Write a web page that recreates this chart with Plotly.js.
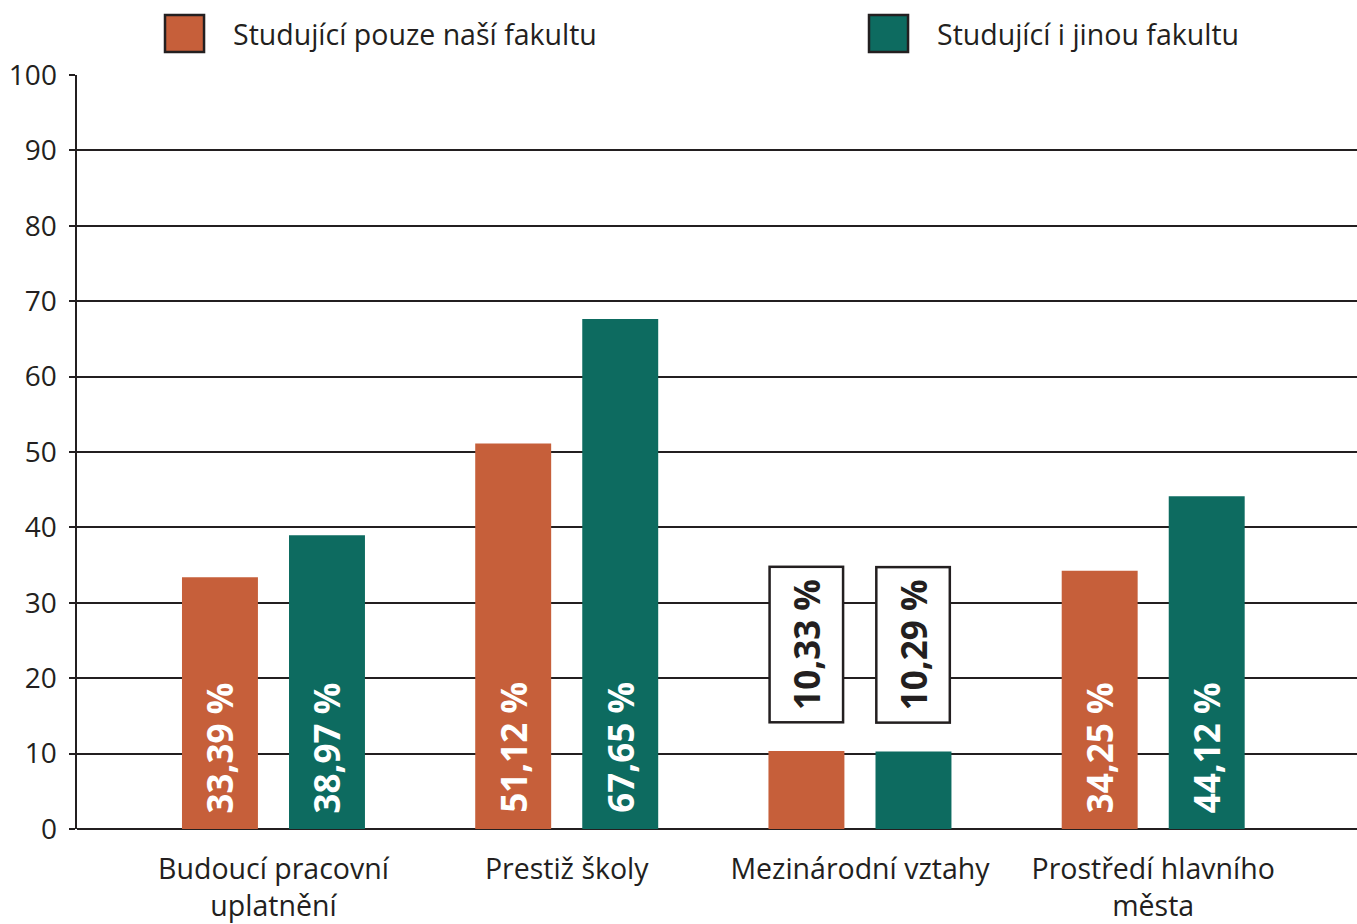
<!DOCTYPE html>
<html>
<head>
<meta charset="utf-8">
<script src="https://cdn.plot.ly/plotly-3.0.1.min.js"></script>
<style>html,body{margin:0;padding:0;background:#fff;}#chart{width:1357px;height:924px;}</style>
</head>
<body>
<div id="chart"></div>
<script>
// ---- data ----
const categories = ["Budoucí pracovní<br>uplatnění", "Prestiž školy", "Mezinárodní vztahy", "Prostředí hlavního<br>města"];
const seriesNames = ["Studující pouze naší fakultu", "Studující i jinou fakultu"];
const onlyOurs = [33.39, 51.12, 10.33, 34.25];
const alsoOther = [38.97, 67.65, 10.29, 44.12];
const labelsOnlyOurs = ["33,39 %", "51,12 %", "10,33 %", "34,25 %"];
const labelsAlsoOther = ["38,97 %", "67,65 %", "10,29 %", "44,12 %"];
const boxedLabelIndex = [2]; // categories whose labels sit in a box above the bar
const yTicks = [0, 10, 20, 30, 40, 50, 60, 70, 80, 90, 100];

// ---- style ----
const ORANGE = "#c65f3a", GREEN = "#0d6b60", INK = "#231f20";
const FONT = "Open Sans, Noto Sans, sans-serif";
const BAR_W = 0.259, OFF_A = -0.312, OFF_B = 0.053;
const LABEL_SIZE = 35;
const xIdx = categories.map((_, i) => i);

const traces = [
  {type: "bar", name: seriesNames[0], x: xIdx, y: onlyOurs, width: BAR_W, offset: OFF_A,
   marker: {color: ORANGE}, hoverinfo: "skip", showlegend: false},
  {type: "bar", name: seriesNames[1], x: xIdx, y: alsoOther, width: BAR_W, offset: OFF_B,
   marker: {color: GREEN}, hoverinfo: "skip", showlegend: false}
];

const annotations = [];
[[onlyOurs, labelsOnlyOurs, OFF_A], [alsoOther, labelsAlsoOther, OFF_B]].forEach(([vals, labs, off]) => {
  vals.forEach((v, i) => {
    const boxed = boxedLabelIndex.includes(i);
    if (boxed) {
      annotations.push({
        x: i + off + BAR_W / 2, y: v, xref: "x", yref: "y",
        yanchor: "bottom", yshift: 28, showarrow: false,
        text: "<b>" + labs[i] + "</b>", textangle: -90,
        font: {family: FONT, size: LABEL_SIZE, color: INK},
        bgcolor: "#fff", bordercolor: INK, borderwidth: 2.5, borderpad: 0,
        width: 153, height: 71
      });
    } else {
      annotations.push({
        x: i + off + BAR_W / 2, y: 0, xref: "x", yref: "y",
        yanchor: "bottom", yshift: 14, showarrow: false,
        text: "<b>" + labs[i] + "</b>", textangle: -90,
        font: {family: FONT, size: LABEL_SIZE, color: "#fff"}
      });
    }
  });
});

// legend drawn manually (large swatches)
const shapes = [];
const legendX = [0.06875, 0.61875];
const legendColors = [ORANGE, GREEN];
seriesNames.forEach((n, k) => {
  shapes.push({type: "rect", xref: "paper", yref: "paper",
    x0: legendX[k], x1: legendX[k] + 0.0305, y0: 1.0305, y1: 1.0796,
    fillcolor: legendColors[k], line: {color: INK, width: 2.5}});
  annotations.push({xref: "paper", yref: "paper", x: legendX[k] + 0.0515, y: 1.055,
    xanchor: "left", yanchor: "middle", showarrow: false, text: n,
    font: {family: FONT, size: 28.5, color: INK}});
});

const layout = {
  width: 1357, height: 924,
  margin: {l: 77, r: 0, t: 75, b: 95},
  paper_bgcolor: "#fff", plot_bgcolor: "#fff",
  barmode: "overlay",
  font: {family: FONT, color: INK},
  xaxis: {range: [-0.67, 3.695], tickvals: xIdx, ticktext: categories,
    showgrid: false, zeroline: false, showline: false, ticks: "",
    ticklabelstandoff: 20,
    tickfont: {family: FONT, size: 28.5, color: INK}, fixedrange: true},
  yaxis: {range: [0, 100], tickvals: yTicks, showgrid: true, gridcolor: INK, gridwidth: 2,
    zeroline: true, zerolinecolor: INK, zerolinewidth: 2.5,
    showline: true, linecolor: INK, linewidth: 2.5, ticks: "outside", ticklen: 6,
    ticklabelstandoff: 6,
    tickwidth: 2, tickcolor: INK, tickfont: {family: FONT, size: 28, color: INK}, fixedrange: true},
  shapes: shapes,
  annotations: annotations,
  showlegend: false
};

Plotly.newPlot("chart", traces, layout, {displayModeBar: false, staticPlot: true});
</script>
</body>
</html>
